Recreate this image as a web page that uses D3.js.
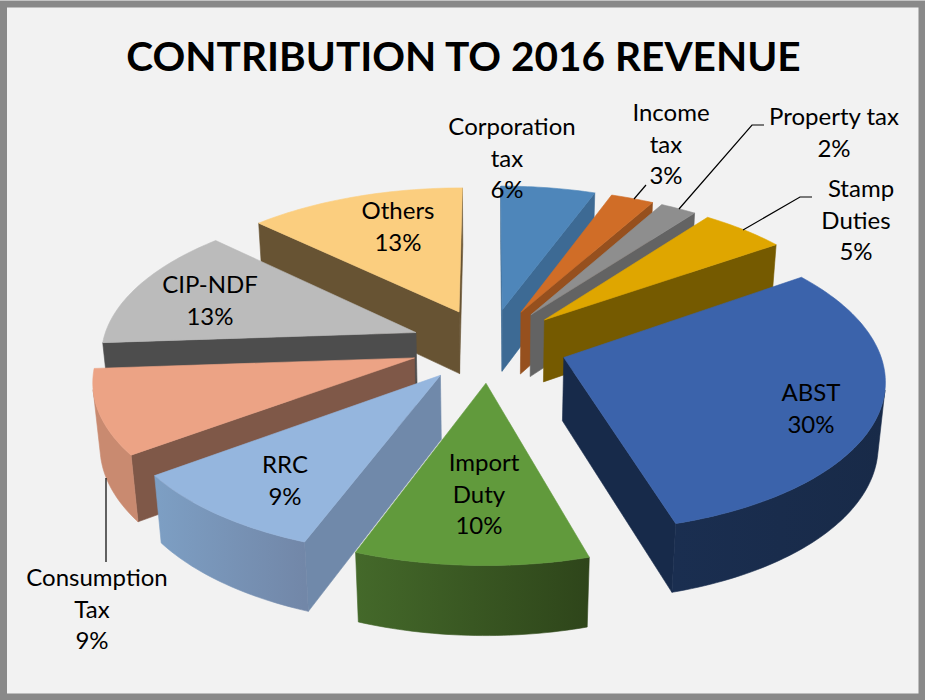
<!DOCTYPE html>
<html><head><meta charset="utf-8">
<script src="https://cdn.jsdelivr.net/npm/d3@7"></script>
<style>html,body{margin:0;padding:0;background:#fff}svg{display:block}</style>
</head><body><svg id="c" width="925" height="700"></svg>
<script>
const categories=["Corporation tax","Income tax","Property tax","Stamp Duties","ABST","Import Duty","RRC","Consumption Tax","CIP-NDF","Others"];
const values=[5.6,2.55,2.15,5.05,30.15,10.2,9.2,9,13.25,12.85];
const title="CONTRIBUTION TO 2016 REVENUE";
const topColors=["#4e86ba","#d06d27","#8e8e8e","#dfa600","#3b63ab","#619a3c","#95b6de","#eca385","#bbbbbb","#fbce7f"];
const wallColors=["#3d6a94","#96501e","#636363","#755a00","#172a4a","#44692a","#7089aa","#7f5848","#4d4d4d","#675333"];
const rimColors=[["#3d6a94","#3d6a94"],["#96501e","#96501e"],["#636363","#636363"],["#755a00","#6f5500"],["#1a2e50","#182a48"],["#44692a","#2e451a"],["#7d9fc4","#7287a8"],["#c98a70","#c98a70"],["#4d4d4d","#4d4d4d"],["#675333","#675333"]];
const labelLines=[["Corporation","tax"],["Income","tax"],["Property tax"],["Stamp","Duties"],["ABST"],["Import","Duty"],["RRC"],["Consumption","Tax"],["CIP-NDF"],["Others"]];
const labelAnchor=[[507,127],[666,113],[834,117],[856,189],[811,393],[479,463],[285,465],[92,578],[210,285],[398,211]];
const leaders=[[],[[634,199],[646,185]],[[679,209],[752,125],[764,125]],[[743,230],[800,197],[812,197]],[],[],[],[[106,478],[106,562]],[],[]];
const drawOrder=[0,1,2,3,9,8,7,6,4,5];

const svg=d3.select("#c");
svg.append("rect").attr("x",3.5).attr("y",4).attr("width",918.5).attr("height",693).attr("fill","#f2f2f2").attr("stroke","#898989").attr("stroke-width",7);

const cx=489,cy=345,A=314,B=148,C=64,k=0.129,m=0.018,e=0.25;
function project(u,v,low){const w=1+k*v+(low?m:0);return [cx+A*u/w,cy-(B*v-(low?C:0))/w];}
const arcs=d3.pie().sort(null).value(d=>d).startAngle(0).endAngle(2*Math.PI)(values);
const line=d3.line();
const defs=svg.append("defs");
const area=p=>d3.polygonArea(p);

function face(g,pts,fill){g.append("path").attr("d",line(pts)+"Z").attr("fill",fill).attr("stroke",fill).attr("stroke-width",0.6).attr("stroke-linejoin","round");}

drawOrder.forEach(i=>{
  const s=arcs[i],mid=(s.startAngle+s.endAngle)/2;
  const ox=e*Math.sin(mid),oy=e*Math.cos(mid);
  const pt=(a,r,low)=>project(ox+r*Math.sin(a),oy+r*Math.cos(a),low);
  const g=svg.append("g").attr("class","slice");
  const n=Math.max(4,Math.ceil((s.endAngle-s.startAngle)/0.02));
  const angs=d3.range(n+1).map(j=>s.startAngle+(s.endAngle-s.startAngle)*j/n);
  const rimTop=angs.map(a=>pt(a,1,false));
  const rimLow=angs.map(a=>pt(a,1,true));
  const apexTop=pt(0,0,false),apexLow=pt(0,0,true);
  const w0=[apexTop,rimTop[0],rimLow[0],apexLow];
  const w1=[apexTop,rimTop[n],rimLow[n],apexLow];
  if(area(w0)>0) face(g,w0,wallColors[i]);
  if(area(w1)<0) face(g,w1,wallColors[i]);
  const xs=rimTop.map(p=>p[0]);
  const gid="rim"+i;
  const gr=defs.append("linearGradient").attr("id",gid).attr("gradientUnits","userSpaceOnUse")
    .attr("x1",d3.min(xs)).attr("x2",d3.max(xs)).attr("y1",0).attr("y2",0);
  gr.append("stop").attr("offset",0).attr("stop-color",rimColors[i][0]);
  gr.append("stop").attr("offset",1).attr("stop-color",rimColors[i][1]);
  let run=[];
  const flush=()=>{if(run.length>1){const a=run.map(j=>rimTop[j]),b=run.map(j=>rimLow[j]).reverse();face(g,a.concat(b),`url(#${gid})`);}run=[];};
  for(let j=0;j<n;j++){
    const q=[rimTop[j],rimTop[j+1],rimLow[j+1],rimLow[j]];
    if(area(q)>0){ if(!run.length)run.push(j); run.push(j+1);} else flush();
  }
  flush();
  face(g,[apexTop].concat(rimTop),topColors[i]);
});

svg.append("text").attr("x",463.5).attr("y",71).attr("text-anchor","middle")
  .attr("font-family","Lato").attr("font-weight",700).attr("font-size",40.6).attr("fill","#000").text(title);

leaders.forEach(l=>{if(l.length)svg.append("path").attr("d",line(l)).attr("fill","none").attr("stroke","#000").attr("stroke-width",1.2);});

const pct=d3.format(".0f"),total=d3.sum(values);
categories.forEach((c,i)=>{
  const lines=labelLines[i].concat([pct(values[i]/total*100)+"%"]);
  const t=svg.append("text").attr("text-anchor","middle").attr("font-family","Lato").attr("font-size",24).attr("fill","#000");
  lines.forEach((ln,j)=>t.append("tspan")
    .attr("x",labelAnchor[i][0]+(j===0&&lines.length>2?5:0))
    .attr("y",labelAnchor[i][1]+8+j*31.7).text(ln));
});
</script></body></html>
